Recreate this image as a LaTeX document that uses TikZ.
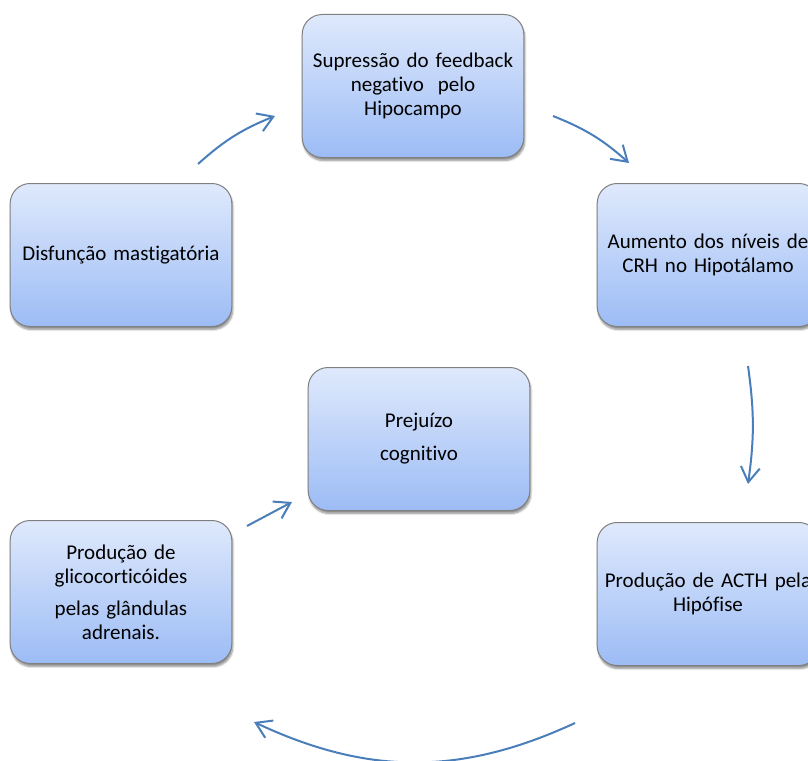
\documentclass[tikz,border=0pt]{standalone}
\usepackage{fontspec}
\setmainfont{Carlito}[Ligatures=NoCommon]
\usetikzlibrary{arrows.meta,shadows.blur}
\definecolor{boxtop}{RGB}{223,233,252}
\definecolor{boxbot}{RGB}{156,188,245}
\definecolor{arrowblue}{RGB}{74,126,187}
\tikzstyle{bx}=[rounded corners=20pt,draw=gray,line width=1pt,top color=boxtop,bottom color=boxbot,minimum width=221pt,minimum height=143pt,text width=215pt,align=center,font=\fontsize{21}{24}\selectfont,blur shadow={shadow xshift=1pt,shadow yshift=-3pt,shadow opacity=45,shadow blur steps=6}]
\tikzstyle{ar}=[draw=arrowblue,line width=2pt,-{Straight Barb[length=15pt,width=19pt]}]

\begin{document}
\begin{tikzpicture}[x=1pt,y=-1pt]
\useasboundingbox (0,0) rectangle (808,760);
\node[bx] (disf) at (121,255) {Disfunção mastigatória};
\node[bx] (supr) at (413,86) {Supressão do feedback\\negativo\ \ pelo\\Hipocampo};
\node[bx] (aum) at (708,255) {Aumento dos níveis de\\CRH no Hipotálamo};
\node[bx] (acth) at (708,594) {Produção de ACTH pela\\Hipófise};
\node[bx] (glic) at (121,592) {Produção de\\glicocorticóides\\[8pt]pelas glândulas\\adrenais.};
\node[bx] (prej) at (419,439) {Prejuízo\\[9pt]cognitivo};
\coordinate (d1) at (198,164); \coordinate (s0) at (275,116);
\coordinate (s1) at (553,116); \coordinate (a0) at (629,163);
\coordinate (a1) at (748,366); \coordinate (h0) at (748,484);
\coordinate (h1) at (575,723); \coordinate (g0) at (254,722);
\coordinate (g1) at (247,526); \coordinate (p0) at (292,502);
\draw[ar] (d1) to[bend left=10] (s0);
\draw[ar] (s1) to[bend left=10] (a0);
\draw[ar] (a1) to[bend left=8] (h0);
\draw[ar] (h1) to[bend left=25] (g0);
\draw[ar] (g1) -- (p0);
\end{tikzpicture}
\end{document}
